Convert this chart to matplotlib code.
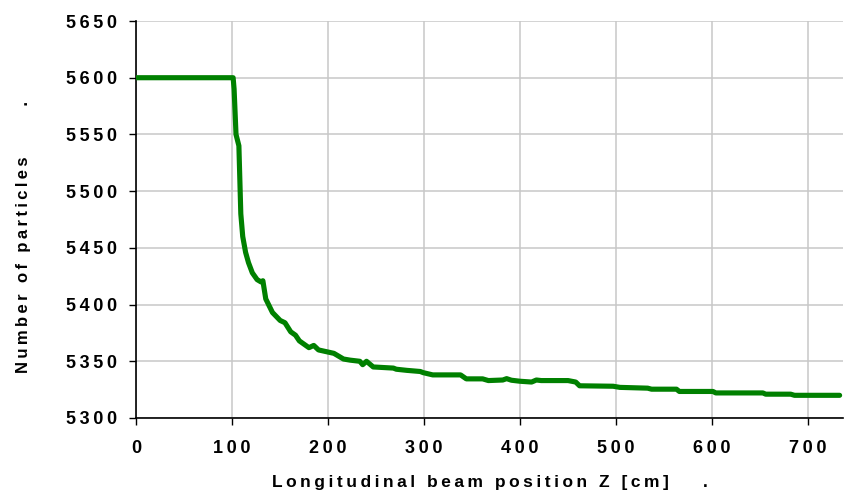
import matplotlib
matplotlib.use("Agg")
import matplotlib.pyplot as plt
from matplotlib.ticker import FuncFormatter

# Particle count along the beam line
z_cm = [0, 101, 102, 104, 107, 108, 109, 111, 114, 117, 121, 126, 130, 132,
        135, 142, 150, 155, 161, 166, 170, 180, 185, 190, 206, 216, 223, 233,
        236, 240, 247, 268, 271, 282, 296, 299, 309, 338, 344, 361, 367, 382,
        386, 391, 400, 412, 417, 422, 450, 458, 462, 497, 504, 533, 537, 563,
        566, 601, 604, 653, 656, 682, 686, 733]
n_particles = [5600, 5600, 5590, 5550, 5540, 5510, 5480, 5460, 5446, 5437,
               5428, 5422, 5420, 5421, 5405, 5393, 5386, 5384, 5376, 5373,
               5368, 5362, 5364, 5360, 5357, 5352, 5351, 5350, 5347, 5350,
               5345, 5344, 5343, 5342, 5341, 5340, 5338, 5338, 5334.5, 5334.5,
               5333, 5333.5, 5334.7, 5333.3, 5332.4, 5331.7, 5333.5, 5333,
               5333, 5331.7, 5328.4, 5328, 5327, 5326.3, 5325.4, 5325.4,
               5323.4, 5323.4, 5322.1, 5322.1, 5321, 5321, 5320, 5320]

x_ticks = list(range(0, 701, 100))
y_ticks = list(range(5300, 5651, 50))

GAP = "\u2009"


def spaced(s):
    # widen the letters a bit, like the old spreadsheet labels
    return GAP.join(s)


plt.rcParams["font.family"] = ["Liberation Sans", "DejaVu Sans"]

fig = plt.figure(figsize=(8.46, 5.0), dpi=100)
ax = fig.add_axes([0.161, 0.164, 0.836, 0.794])

ax.plot(z_cm, n_particles, color="#008000", lw=3.7, solid_joinstyle="round",
        solid_capstyle="round", zorder=3)

ax.set_xlim(0, 737)
ax.set_ylim(5300, 5650)
ax.set_xticks(x_ticks)
ax.set_yticks(y_ticks)
ax.xaxis.set_major_formatter(FuncFormatter(lambda v, p: spaced(str(int(v)))))
ax.yaxis.set_major_formatter(FuncFormatter(lambda v, p: spaced(str(int(v)))))

ax.grid(True, color="#c8c8c8", lw=1.1)
ax.set_axisbelow(True)
for side in ("top", "right"):
    ax.spines[side].set_visible(False)
for side in ("left", "bottom"):
    ax.spines[side].set_color("black")
    ax.spines[side].set_linewidth(1.2)

ax.tick_params(direction="out", length=5, width=1, colors="black",
               labelsize=13)
for lab in ax.get_xticklabels() + ax.get_yticklabels():
    lab.set_fontweight("bold")
ax.tick_params(axis="x", pad=11)
ax.tick_params(axis="y", pad=9)

ax.set_xlabel(spaced("Longitudinal beam position Z [cm]") + "       .",
              fontsize=12.5, fontweight="bold", labelpad=13)
ax.set_ylabel(spaced("Number of particles") + "           .",
              fontsize=12, fontweight="bold")
ax.yaxis.set_label_coords(-0.149, 0.456)

fig.savefig("out.png", dpi=100)
